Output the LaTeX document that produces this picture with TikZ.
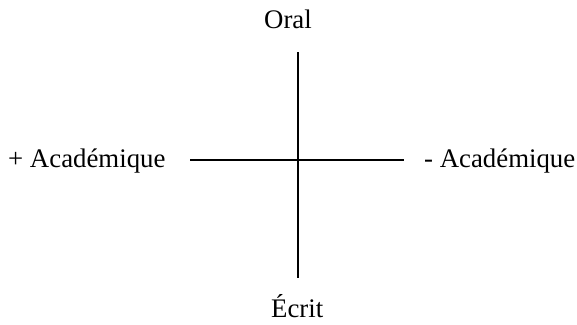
\documentclass[tikz,border=0pt]{standalone}
\usepackage{fontspec}
\setmainfont{Liberation Serif}
\begin{document}
\begin{tikzpicture}[x=1pt,y=-1pt,
  lbl/.style={inner sep=0pt,anchor=base west,font=\fontsize{26.8}{30}\selectfont},
  axis/.style={line width=1.5pt,black}]
\useasboundingbox (0,0) rectangle (577,324);
\coordinate (top) at (298,52);
\coordinate (bot) at (298,278);
\coordinate (lft) at (190,160);
\coordinate (rgt) at (404,160);
\draw[axis] (top) -- (bot);
\draw[axis] (lft) -- (rgt);
\node[lbl] (oral) at (264,28) {Oral};
\node[lbl] (ecrit) at (271,317) {Écrit};
\node[lbl] (plus) at (8,167) {+ Académique};
\node[lbl] (moins) at (424,167) {- Académique};
\end{tikzpicture}
\end{document}
